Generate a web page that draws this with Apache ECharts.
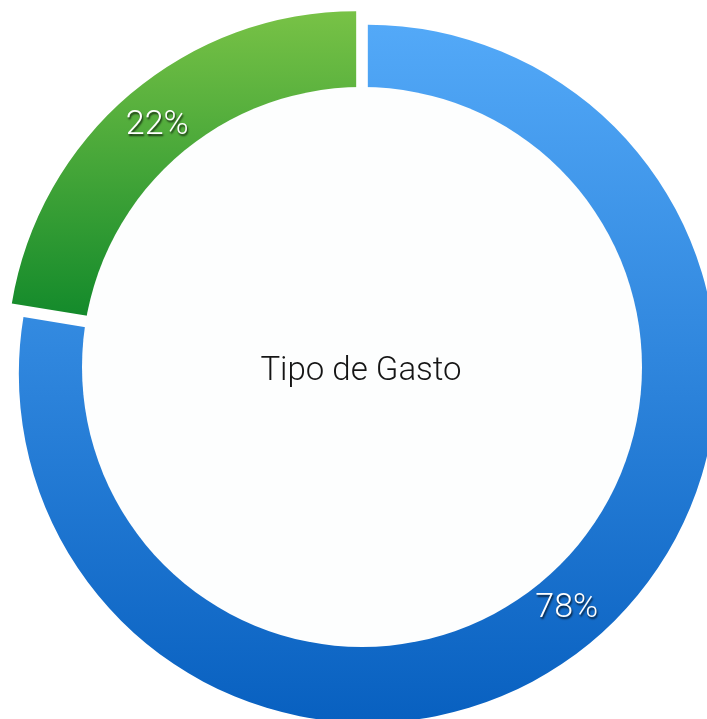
<!DOCTYPE html>
<html>
<head>
<meta charset="utf-8">
<script src="https://cdn.jsdelivr.net/npm/echarts@6/dist/echarts.min.js"></script>
<style>
html,body{margin:0;padding:0;background:#ffffff;}
#chart{width:707px;height:719px;}
</style>
</head>
<body>
<div id="chart"></div>
<script>
const categories = ['Gasto A', 'Gasto B'];
const values = [77.6, 22.4];
const centerTitle = 'Tipo de Gasto';
const gradients = [
  ['#53A9F8', '#0860C0'],
  ['#78C246', '#138A2B']
];

const chart = echarts.init(document.getElementById('chart'));
const data = categories.map((name, i) => ({
  name: name,
  value: values[i],
  selected: true,
  itemStyle: {
    color: new echarts.graphic.LinearGradient(0, 0, 0, 1, [
      { offset: 0, color: gradients[i][0] },
      { offset: 1, color: gradients[i][1] }
    ])
  }
}));

chart.setOption({
  animation: false,
  backgroundColor: '#ffffff',
  series: [{
    type: 'pie',
    center: [362, 367],
    radius: [260, 349],
    startAngle: 90,
    clockwise: true,
    selectedMode: 'multiple',
    selectedOffset: 9,
    percentPrecision: 0,
    silent: true,
    label: {
      show: true,
      position: 'inside',
      formatter: '{d}%',
      offset: [0, 4],
      color: '#ffffff',
      fontFamily: 'Roboto',
      fontWeight: 300,
      fontSize: 34,
      textShadowColor: 'rgba(0,0,0,0.75)',
      textShadowBlur: 2,
      textShadowOffsetX: 1,
      textShadowOffsetY: 2
    },
    labelLine: { show: false },
    itemStyle: { borderWidth: 0 },
    emphasis: { disabled: true },
    select: { itemStyle: { borderWidth: 0 } },
    data: data
  }],
  graphic: [
    {
      type: 'circle',
      z: 100,
      silent: true,
      shape: { cx: 362, cy: 367, r: 280 },
      style: { fill: '#fdfefe' }
    },
    {
      type: 'text',
      z: 101,
      silent: true,
      x: 361,
      y: 372,
      style: {
        text: centerTitle,
        fill: '#151515',
        font: '300 33px Roboto',
        align: 'center',
        verticalAlign: 'middle'
      }
    }
  ]
});
</script>
</body>
</html>
